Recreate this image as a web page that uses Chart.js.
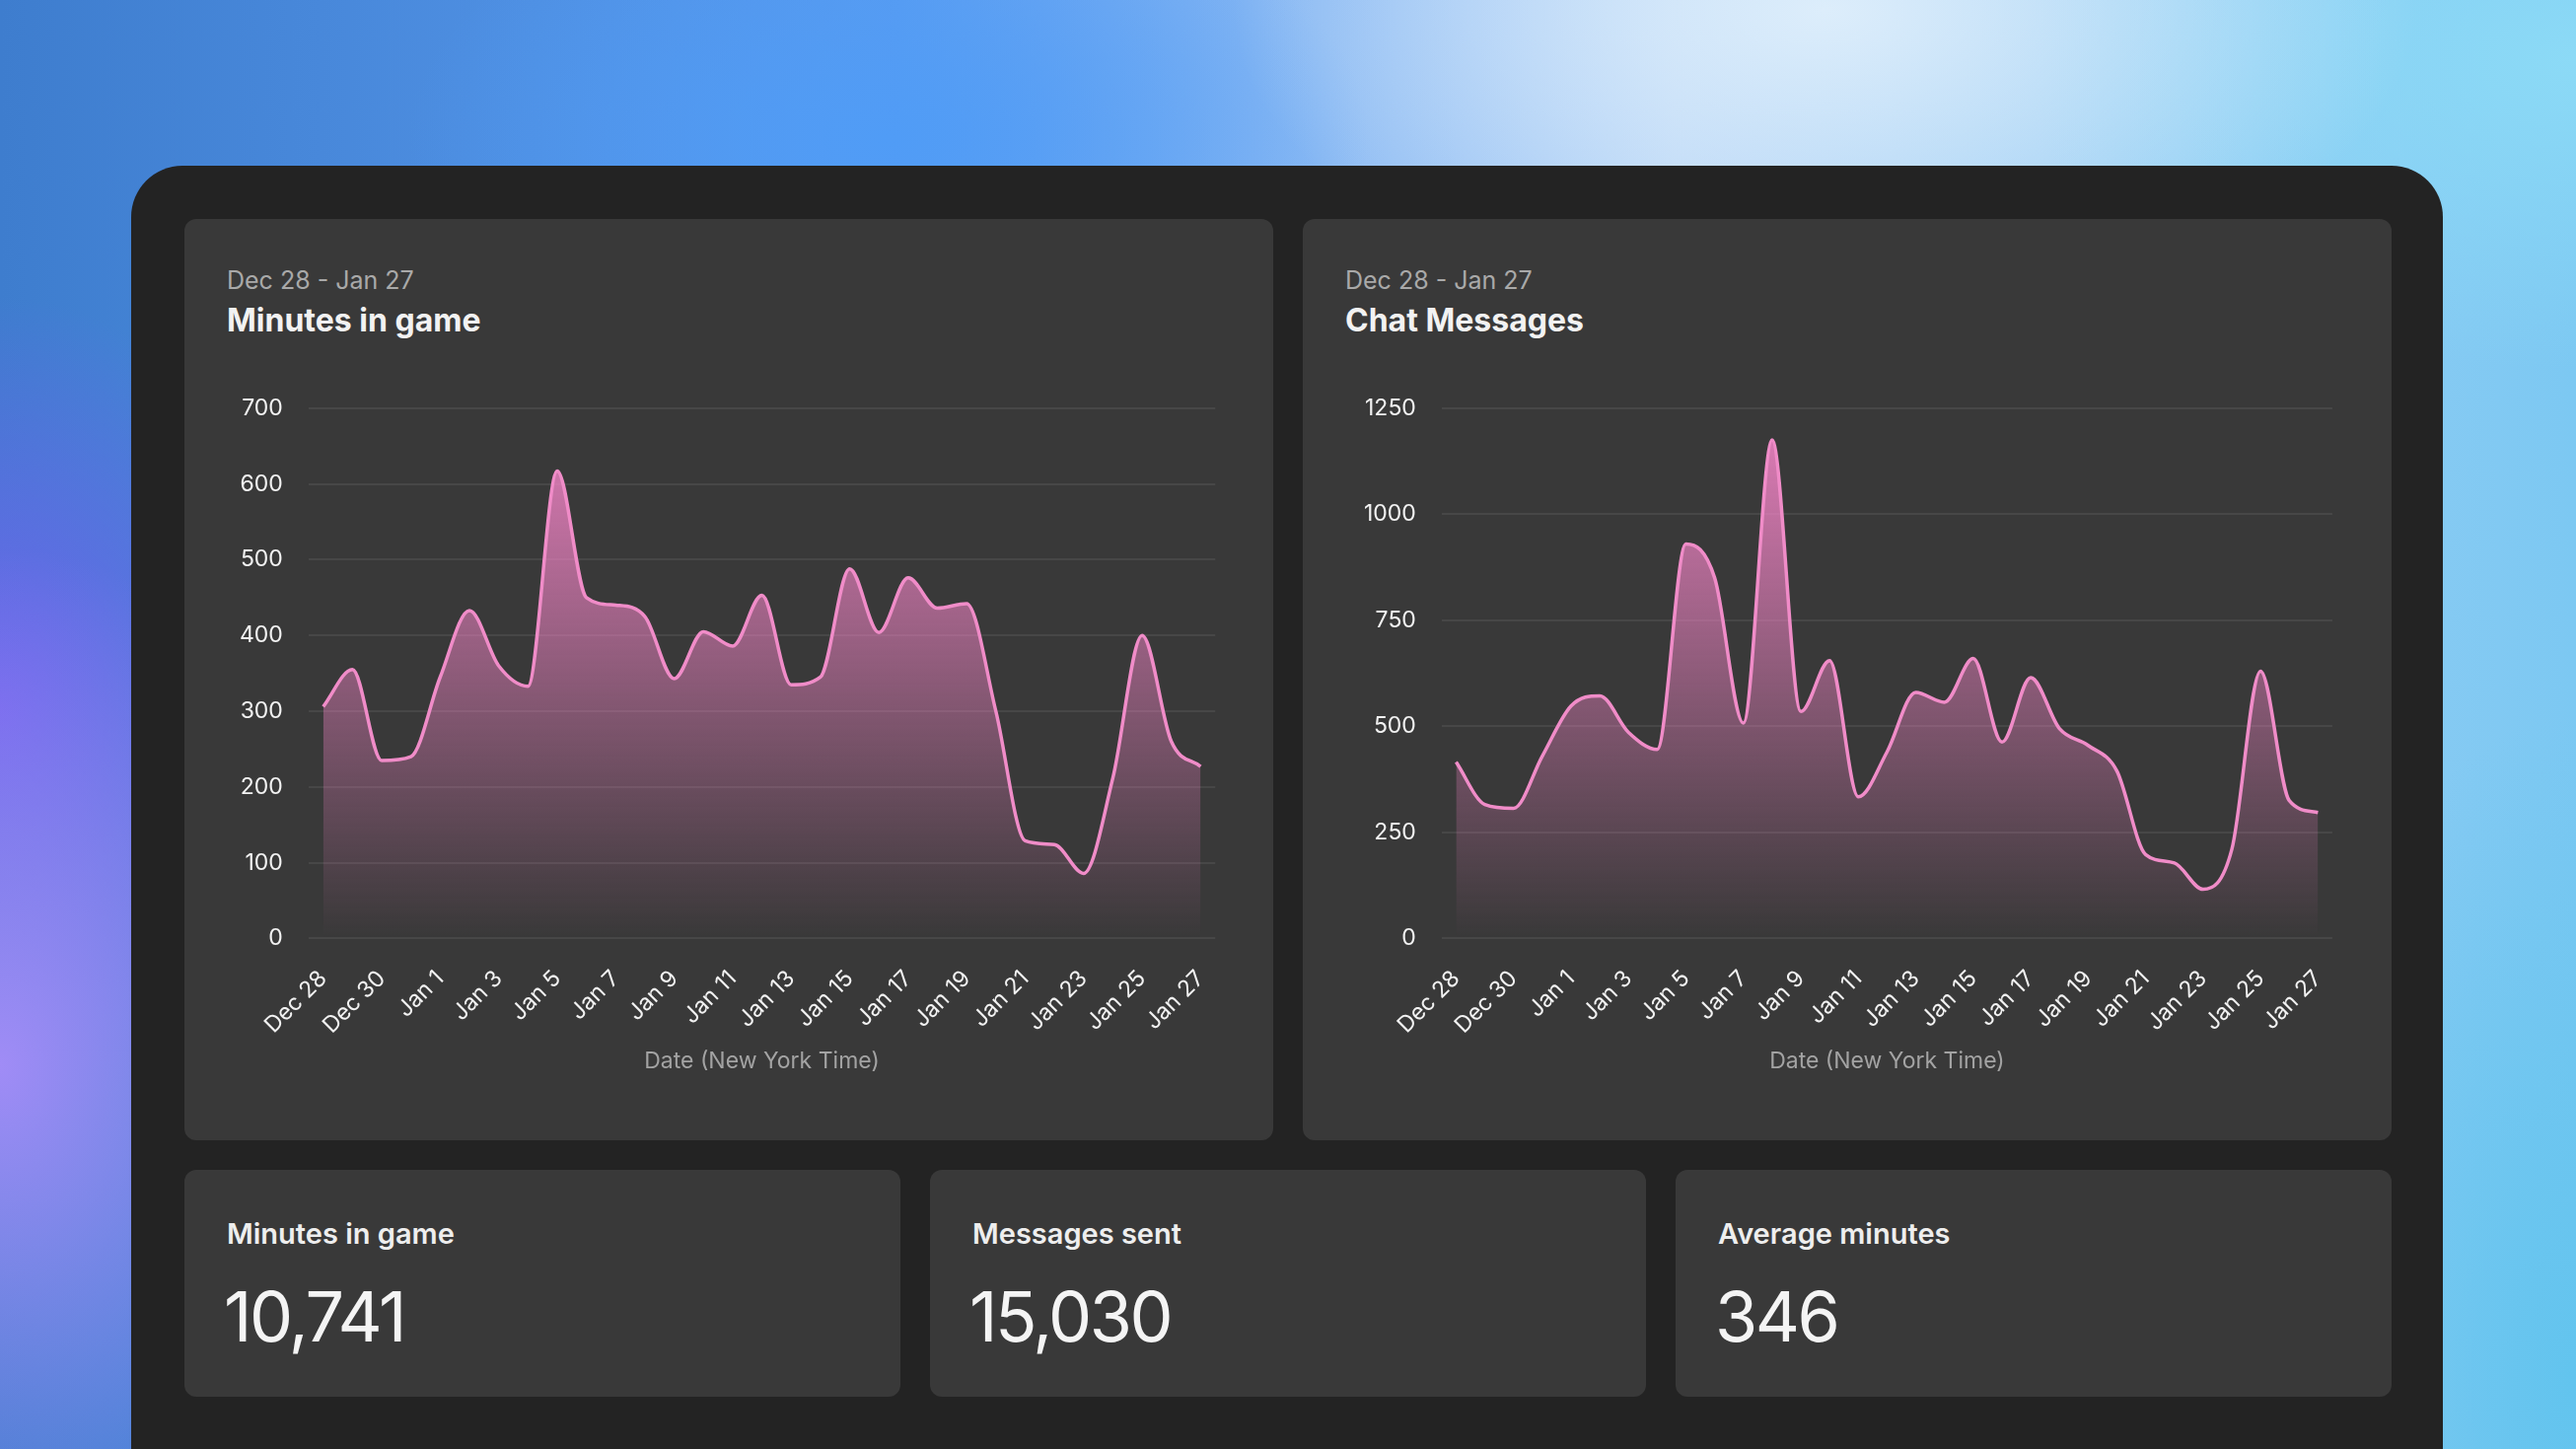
<!DOCTYPE html>
<html>
<head>
<meta charset="utf-8">
<script src="https://cdn.jsdelivr.net/npm/chart.js@4.4.1/dist/chart.umd.min.js"></script>
<style>
html,body{margin:0;padding:0;width:2612px;height:1469px;overflow:hidden;font-family:Inter,"Noto Sans",sans-serif;}
body{
  position:relative;
  background:
    radial-gradient(ellipse 800px 420px at 1850px 10px, rgba(222,238,251,0.97), rgba(222,238,251,0) 75%),
    radial-gradient(ellipse 750px 420px at 2612px 60px, rgba(140,218,246,1), rgba(140,218,246,0) 75%),
    radial-gradient(ellipse 650px 360px at 900px 140px, rgba(80,156,246,1), rgba(80,156,246,0) 75%),
    radial-gradient(ellipse 520px 700px at 0px 1080px, rgba(160,140,246,1), rgba(160,140,246,0) 75%),
    radial-gradient(ellipse 420px 560px at 0px 720px, rgba(110,100,236,1), rgba(110,100,236,0) 75%),
    radial-gradient(ellipse 420px 900px at 2612px 1400px, rgba(98,196,238,1), rgba(98,196,238,0) 75%),
    linear-gradient(90deg, #3e7dce 0%, #5a9cf0 35%, #b6d4f6 65%, #7cc8f2 100%);
}
.frame{position:absolute;left:133px;top:168px;width:2344px;height:1400px;background:#232323;border-radius:52px;}
.card{position:absolute;background:#393939;border-radius:12px;}
.sub{position:absolute;left:43px;top:47px;font-size:25px;color:#a9a9a9;}
.ttl{position:absolute;left:43px;top:83px;font-size:32px;font-weight:700;color:#f2f2f2;}
.wrap{position:absolute;}
.stitle{position:absolute;left:43px;top:47px;font-size:29px;font-weight:600;color:#eeeeee;}
.sval{position:absolute;left:40px;top:106px;font-size:70px;font-weight:400;color:#f4f4f4;letter-spacing:-2.5px;}
</style>
</head>
<body>
<div class="frame"></div>

<div class="card" style="left:187px;top:222px;width:1104px;height:934px;">
  <div class="sub" id="r1"></div>
  <div class="ttl">Minutes in game</div>
  <div class="wrap" style="left:30px;top:152px;width:1047px;height:716px;"><canvas id="c1"></canvas></div>
</div>

<div class="card" style="left:1321px;top:222px;width:1104px;height:934px;">
  <div class="sub" id="r2"></div>
  <div class="ttl">Chat Messages</div>
  <div class="wrap" style="left:36px;top:152px;width:1040px;height:716px;"><canvas id="c2"></canvas></div>
</div>

<div class="card" style="left:187px;top:1186px;width:726px;height:230px;">
  <div class="stitle" id="s1t"></div><div class="sval" id="s1v"></div>
</div>
<div class="card" style="left:943px;top:1186px;width:726px;height:230px;">
  <div class="stitle" id="s2t"></div><div class="sval" id="s2v"></div>
</div>
<div class="card" style="left:1699px;top:1186px;width:726px;height:230px;">
  <div class="stitle" id="s3t"></div><div class="sval" id="s3v"></div>
</div>

<script>
const dates = ['Dec 28','Dec 29','Dec 30','Dec 31','Jan 1','Jan 2','Jan 3','Jan 4','Jan 5','Jan 6','Jan 7','Jan 8','Jan 9','Jan 10','Jan 11','Jan 12','Jan 13','Jan 14','Jan 15','Jan 16','Jan 17','Jan 18','Jan 19','Jan 20','Jan 21','Jan 22','Jan 23','Jan 24','Jan 25','Jan 26','Jan 27'];
const minutesInGame = [306,355,235,240,345,433,360,333,617,450,440,425,343,405,386,453,335,345,488,404,476,436,442,300,129,124,86,212,400,260,227];
const chatMessages = [416,316,307,430,548,572,486,446,930,850,508,1175,535,655,334,440,580,557,660,463,615,495,455,395,198,178,116,210,630,325,297];
const minutesTicks = [0,100,200,300,400,500,600,700];
const messagesTicks = [0,250,500,750,1000,1250];
const statTitles = ['Minutes in game','Messages sent','Average minutes'];
const statValues = ['10,741','15,030','346'];
const rangeText = 'Dec 28 - Jan 27';
const xTitle = 'Date (New York Time)';

document.getElementById('r1').textContent = rangeText;
document.getElementById('r2').textContent = rangeText;
['s1','s2','s3'].forEach((id,i)=>{
  document.getElementById(id+'t').textContent = statTitles[i];
  document.getElementById(id+'v').textContent = statValues[i];
});

Chart.defaults.font.family = 'Inter, "Noto Sans", sans-serif';

function makeChart(id, values, tickVals){
  const ctx = document.getElementById(id);
  return new Chart(ctx, {
    type:'line',
    data:{
      labels: dates,
      datasets:[{
        data: values,
        borderColor:'#f08cc8',
        borderWidth:3.5,
        pointRadius:0,
        pointHoverRadius:0,
        cubicInterpolationMode:'monotone',
        fill:'origin',
        backgroundColor:(c)=>{
          const area = c.chart.chartArea;
          if(!area) return 'rgba(240,130,195,0.4)';
          const g = c.chart.ctx.createLinearGradient(0, area.top, 0, area.bottom);
          g.addColorStop(0,'rgba(242,132,198,0.92)');
          g.addColorStop(1,'rgba(242,132,198,0.0)');
          return g;
        }
      }]
    },
    options:{
      responsive:true,
      maintainAspectRatio:false,
      devicePixelRatio:1,
      animation:false,
      layout:{padding:{left:0,right:6,top:6,bottom:0}},
      plugins:{legend:{display:false},tooltip:{enabled:false}},
      scales:{
        x:{
          offset:true,
          afterFit:(axis)=>{ axis.height -= 20; },
          grid:{display:false,drawTicks:false},
          border:{display:false},
          ticks:{
            autoSkip:false,
            maxRotation:45,minRotation:45,
            padding:27,
            color:'#f2f2f2',
            font:{size:23},
            callback:function(v,i){ return i%2===0 ? this.getLabelForValue(v) : null; }
          },
          title:{display:true,text:xTitle,color:'#a3a3a3',font:{size:23},padding:{top:2,bottom:0}}
        },
        y:{
          min:tickVals[0],
          max:tickVals[tickVals.length-1],
          afterBuildTicks:(axis)=>{ axis.ticks = tickVals.map(v=>({value:v})); },
          grid:{color:'rgba(255,255,255,0.075)',lineWidth:2,drawTicks:false},
          border:{display:false},
          ticks:{color:'#f2f2f2',font:{size:23},padding:26,callback:(v)=>String(v)}
        }
      }
    }
  });
}
makeChart('c1', minutesInGame, minutesTicks);
makeChart('c2', chatMessages, messagesTicks);
</script>
</body>
</html>
